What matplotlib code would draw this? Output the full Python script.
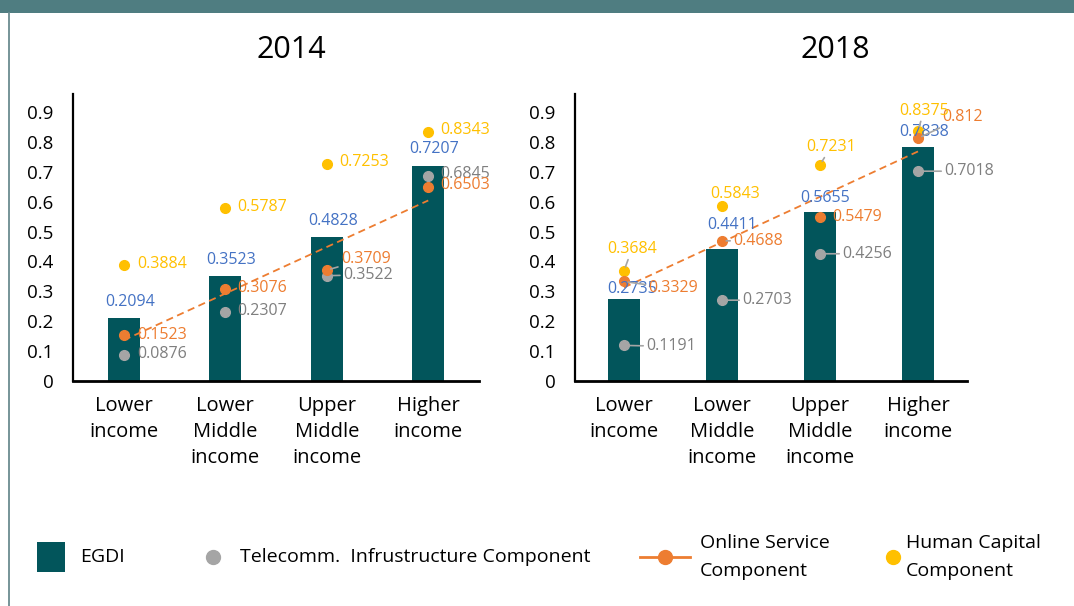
import matplotlib
matplotlib.use('Agg')
import matplotlib.pyplot as plt
import numpy as np
from matplotlib.patches import Rectangle
from matplotlib.lines import Line2D

plt.rcParams['font.family'] = ['Open Sans', 'DejaVu Sans']

# ---------------- data ----------------
categories = ['Lower\nincome', 'Lower\nMiddle\nincome', 'Upper\nMiddle\nincome', 'Higher\nincome']
ytick_values = [0, 0.1, 0.2, 0.3, 0.4, 0.5, 0.6, 0.7, 0.8, 0.9]
ytick_labels = ['0', '0.1', '0.2', '0.3', '0.4', '0.5', '0.6', '0.7', '0.8', '0.9']

egdi_2014 = [0.2094, 0.3523, 0.4828, 0.7207]
telecom_2014 = [0.0876, 0.2307, 0.3522, 0.6845]
online_2014 = [0.1523, 0.3076, 0.3709, 0.6503]
human_2014 = [0.3884, 0.5787, 0.7253, 0.8343]

egdi_2018 = [0.2735, 0.4411, 0.5655, 0.7838]
telecom_2018 = [0.1191, 0.2703, 0.4256, 0.7018]
online_2018 = [0.3329, 0.4688, 0.5479, 0.812]
human_2018 = [0.3684, 0.5843, 0.7231, 0.8375]

# ---------------- style ----------------
C_BAR = '#02555b'
C_GRAY = '#a5a5a5'
C_GRAY_TXT = '#7f7f7f'
C_ORANGE = '#ed7d31'
C_YELLOW = '#ffc000'
C_BLUE = '#4472c4'
C_FRAME = '#4f7d81'

# label offsets in pixels (dx right, dy up), and leader-line flags
# order: lower, lower middle, upper middle, higher
off_2014 = {
    'egdi':    [(6, 16), (6, 16), (6, 16), (6, 17)],
    'telecom': [(13, 1), (12, 1), (16, 1), (12, 2)],
    'online':  [(13, 0), (12, 1), (14, 11), (12, 2)],
    'human':   [(13, 1), (12, 1), (12, 2), (12, 2)],
}
lead_2014 = {
    'telecom': [False, False, True, False],
    'online':  [False, False, True, False],
    'human':   [False, False, False, False],
}
off_2018 = {
    'egdi':    [(8, 10), (10, 24), (5, 14), (6, 15)],
    'telecom': [(22, -1), (20, 0), (22, 0), (26, 0)],
    'online':  [(24, -7), (11, 0), (12, 0), (24, 21)],
    'human':   [(8, 22), (13, 12), (11, 18), (6, 20)],
}
lead_2018 = {
    'telecom': [True, True, True, True],
    'online':  [True, True, False, True],
    'human':   [True, False, True, True],
}

W, H = 1074, 606
fig = plt.figure(figsize=(W / 100, H / 100), dpi=100)

# frame decorations
fig.add_artist(Rectangle((0, 1 - 13 / H), 1, 13 / H, transform=fig.transFigure,
                         color=C_FRAME, lw=0))
fig.add_artist(Line2D([8.5 / W, 8.5 / W], [0, 1 - 13 / H], transform=fig.transFigure,
                      color='#6b8b90', lw=1.3))

ax_l = fig.add_axes([73 / W, 1 - 381 / H, 406 / W, 287 / H])
ax_r = fig.add_axes([575 / W, 1 - 381 / H, 392 / W, 287 / H])

PX = 0.72  # points per pixel at dpi 100


def label(ax, x, y, text, color, off, ha, leader):
    dx, dy = off
    kw = {}
    if leader:
        kw['arrowprops'] = dict(arrowstyle='-', color=C_GRAY, lw=1.2,
                                shrinkA=0, shrinkB=3)
    ax.annotate(text, xy=(x, y), xytext=(dx * PX, dy * PX), textcoords='offset points',
                ha=ha, va='center', color=color, fontsize=11.5, zorder=6, **kw)


def panel(ax, egdi, telecom, online, human, offs, leads, hha):
    x = np.arange(len(categories))
    ax.bar(x, egdi, width=0.32, color=C_BAR, zorder=2)
    coef = np.polyfit(x, online, 1)
    xs = np.array([x[0], x[-1]])
    ax.plot(xs, np.polyval(coef, xs), color=C_ORANGE, lw=1.3, ls=(0, (4, 2.5)), zorder=3)
    ax.plot(x, telecom, 'o', color=C_GRAY, ms=7, zorder=4)
    ax.plot(x, human, 'o', color=C_YELLOW, ms=7, zorder=4)
    ax.plot(x, online, 'o', color=C_ORANGE, ms=7, zorder=5)
    for i in range(len(x)):
        label(ax, x[i], egdi[i], f'{egdi[i]:.4f}'.rstrip('0'), C_BLUE, offs['egdi'][i], 'center', False)
        label(ax, x[i], telecom[i], f'{telecom[i]:.4f}'.rstrip('0'), C_GRAY_TXT, offs['telecom'][i], 'left', leads['telecom'][i])
        label(ax, x[i], online[i], f'{online[i]:.4f}'.rstrip('0'), C_ORANGE, offs['online'][i], 'left', leads['online'][i])
        label(ax, x[i], human[i], f'{human[i]:.4f}'.rstrip('0'), C_YELLOW, offs['human'][i], hha, leads['human'][i])
    ax.set_xlim(-0.5, 3.5)
    ax.set_ylim(0, 0.96)
    ax.set_yticks(ytick_values)
    ax.set_yticklabels(ytick_labels, fontsize=13.5)
    ax.set_xticks(x)
    ax.set_xticklabels(categories, fontsize=14.5, linespacing=1.4)
    ax.tick_params(axis='y', length=0, pad=14)
    ax.tick_params(axis='x', length=0, pad=11)
    for s in ['top', 'right']:
        ax.spines[s].set_visible(False)
    ax.spines['left'].set_linewidth(1.6)
    ax.spines['bottom'].set_linewidth(2)
    ax.spines['left'].set_color('black')
    ax.spines['bottom'].set_color('black')
    ax.patch.set_alpha(0)


panel(ax_l, egdi_2014, telecom_2014, online_2014, human_2014, off_2014, lead_2014, 'left')
panel(ax_r, egdi_2018, telecom_2018, online_2018, human_2018, off_2018, lead_2018, 'center')

fig.text(291 / W, 1 - 50 / H, '2014', ha='center', va='center', fontsize=22)
fig.text(835 / W, 1 - 50 / H, '2018', ha='center', va='center', fontsize=22)

# ---------------- legend ----------------
ly = 1 - 557 / H
fig.add_artist(Rectangle((37 / W, 1 - 572 / H), 28 / W, 30 / H, transform=fig.transFigure,
                         color=C_BAR, lw=0))
fig.text(80 / W, ly, 'EGDI', ha='left', va='center', fontsize=14)
fig.add_artist(Line2D([213 / W], [ly], transform=fig.transFigure, marker='o',
                      color=C_GRAY, ms=10, ls='none'))
fig.text(240 / W, ly, 'Telecomm.  Infrustructure Component', ha='left', va='center', fontsize=14)
fig.add_artist(Line2D([640 / W, 690 / W], [ly, ly], transform=fig.transFigure,
                      color=C_ORANGE, lw=2))
fig.add_artist(Line2D([665 / W], [ly], transform=fig.transFigure, marker='o',
                      color=C_ORANGE, ms=10, ls='none'))
fig.text(700 / W, ly, 'Online Service\nComponent', ha='left', va='center', fontsize=14,
         linespacing=1.75)
fig.add_artist(Line2D([893 / W], [ly], transform=fig.transFigure, marker='o',
                      color=C_YELLOW, ms=10, ls='none'))
fig.text(906 / W, ly, 'Human Capital\nComponent', ha='left', va='center', fontsize=14,
         linespacing=1.75)

fig.savefig('out.png', dpi=100)
